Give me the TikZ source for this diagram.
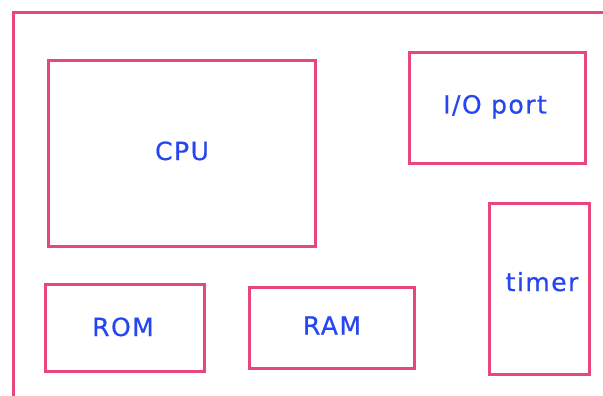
\documentclass[tikz,border=0pt]{standalone}
\usepackage{fontspec}
\setmainfont{DejaVu Sans}[LetterSpace=6, FakeBold=0.6]
\definecolor{edgepink}{HTML}{E8467C}
\definecolor{labelblue}{HTML}{2546F0}
\tikzset{
  block/.style={draw=edgepink, line width=3pt, rectangle, inner sep=0pt},
  blocktext/.style={text=labelblue, font=\fontsize{25}{25}\selectfont,
    inner sep=0pt, anchor=base}
}
\begin{document}
\begin{tikzpicture}[x=1pt,y=-1pt]
\useasboundingbox (0,0) rectangle (603,396);
\clip (0,0) rectangle (603,396);
% board outline, running off the right and bottom edges
\draw[edgepink, line width=3pt] (13.5,430) -- (13.5,12.5) -- (640,12.5);
% components
\node[block, minimum width=266.5pt, minimum height=185.5pt] (cpu) at (181.75,153.75) {};
\node[block, minimum width=176pt, minimum height=110pt] (io) at (497.5,108) {};
\node[block, minimum width=99.5pt, minimum height=171pt] (timer) at (539.25,288.5) {};
\node[block, minimum width=159.5pt, minimum height=86.5pt] (rom) at (124.75,327.75) {};
\node[block, minimum width=165pt, minimum height=81pt] (ram) at (332,327.5) {};
% labels, placed by their baselines
\node[blocktext] (cpu-t) at (182,160) {CPU};
\node[blocktext] (io-t) at (495,113.5) {I/O port};
\node[blocktext] (timer-t) at (542,291) {timer};
\node[blocktext] (rom-t) at (123,336) {ROM};
\node[blocktext] (ram-t) at (332,334.5) {RAM};
\end{tikzpicture}
\end{document}
